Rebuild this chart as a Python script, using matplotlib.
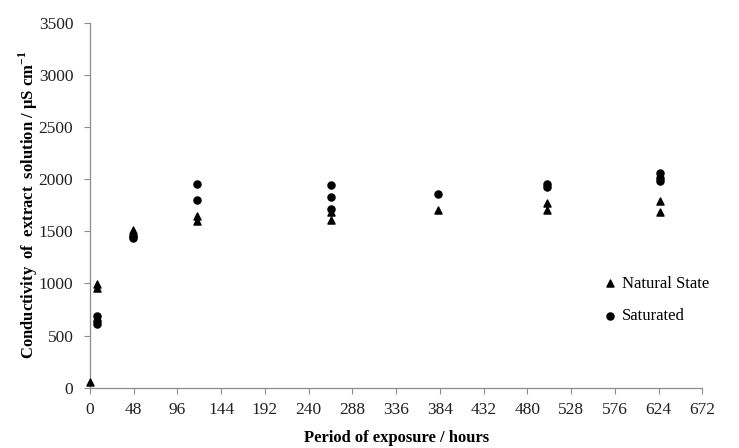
import matplotlib.pyplot as plt

plt.rcParams['font.family'] = ['Liberation Serif', 'DejaVu Serif']
plt.rcParams['mathtext.fontset'] = 'custom'
plt.rcParams['mathtext.rm'] = 'Liberation Serif'
plt.rcParams['mathtext.bf'] = 'Liberation Serif:bold'

# hours of exposure and conductivity readings (uS/cm)
natural_hours = [0, 8, 8, 47, 47, 117, 117, 265, 265, 382, 502, 502, 626, 626]
natural_vals = [50, 990, 960, 1510, 1485, 1645, 1600, 1685, 1608, 1705, 1775, 1705, 1790, 1688]

saturated_hours = [8, 8, 8, 47, 47, 117, 117, 265, 265, 265, 382, 502, 502, 626, 626, 626]
saturated_vals = [690, 640, 612, 1455, 1435, 1950, 1800, 1940, 1832, 1718, 1857, 1955, 1920, 2060, 2010, 1985]

xticks = list(range(0, 673, 48))
yticks = list(range(0, 3501, 500))

fig = plt.figure(figsize=(7.39, 4.48), dpi=100)
ax = fig.add_axes([0.1218, 0.1346, 0.8285, 0.8147])

ax.scatter(natural_hours, natural_vals, marker='^', s=26, color='black', label='Natural State', zorder=3, clip_on=False)
ax.scatter(saturated_hours, saturated_vals, marker='o', s=26, color='black', label='Saturated', zorder=3, clip_on=False)

ax.set_xlim(0, 672)
ax.set_ylim(0, 3500)
ax.set_xticks(xticks)
ax.set_yticks(yticks)

for side in ['top', 'right']:
    ax.spines[side].set_visible(False)
for side in ['left', 'bottom']:
    ax.spines[side].set_color('#8c8c8c')
    ax.spines[side].set_linewidth(0.9)
ax.tick_params(axis='both', direction='out', length=4, color='#8c8c8c', labelsize=12.5, labelcolor='#222222')
ax.tick_params(axis='y', pad=8)
ax.tick_params(axis='x', pad=6)

ax.set_xlabel('Period of exposure / hours', fontsize=12, fontweight='bold', labelpad=9)
ax.set_ylabel('Conductivity  of  extract  solution / µS cm$^{\\mathbf{-1}}$', fontsize=12, fontweight='bold')
ax.yaxis.set_label_coords(-0.081, 0.5)

ax.legend(loc='center left', bbox_to_anchor=(0.825, 0.24), frameon=False, fontsize=12,
          handletextpad=0.2, labelspacing=1.0, handlelength=1.0, borderaxespad=0)

fig.savefig('out.png', dpi=100)
